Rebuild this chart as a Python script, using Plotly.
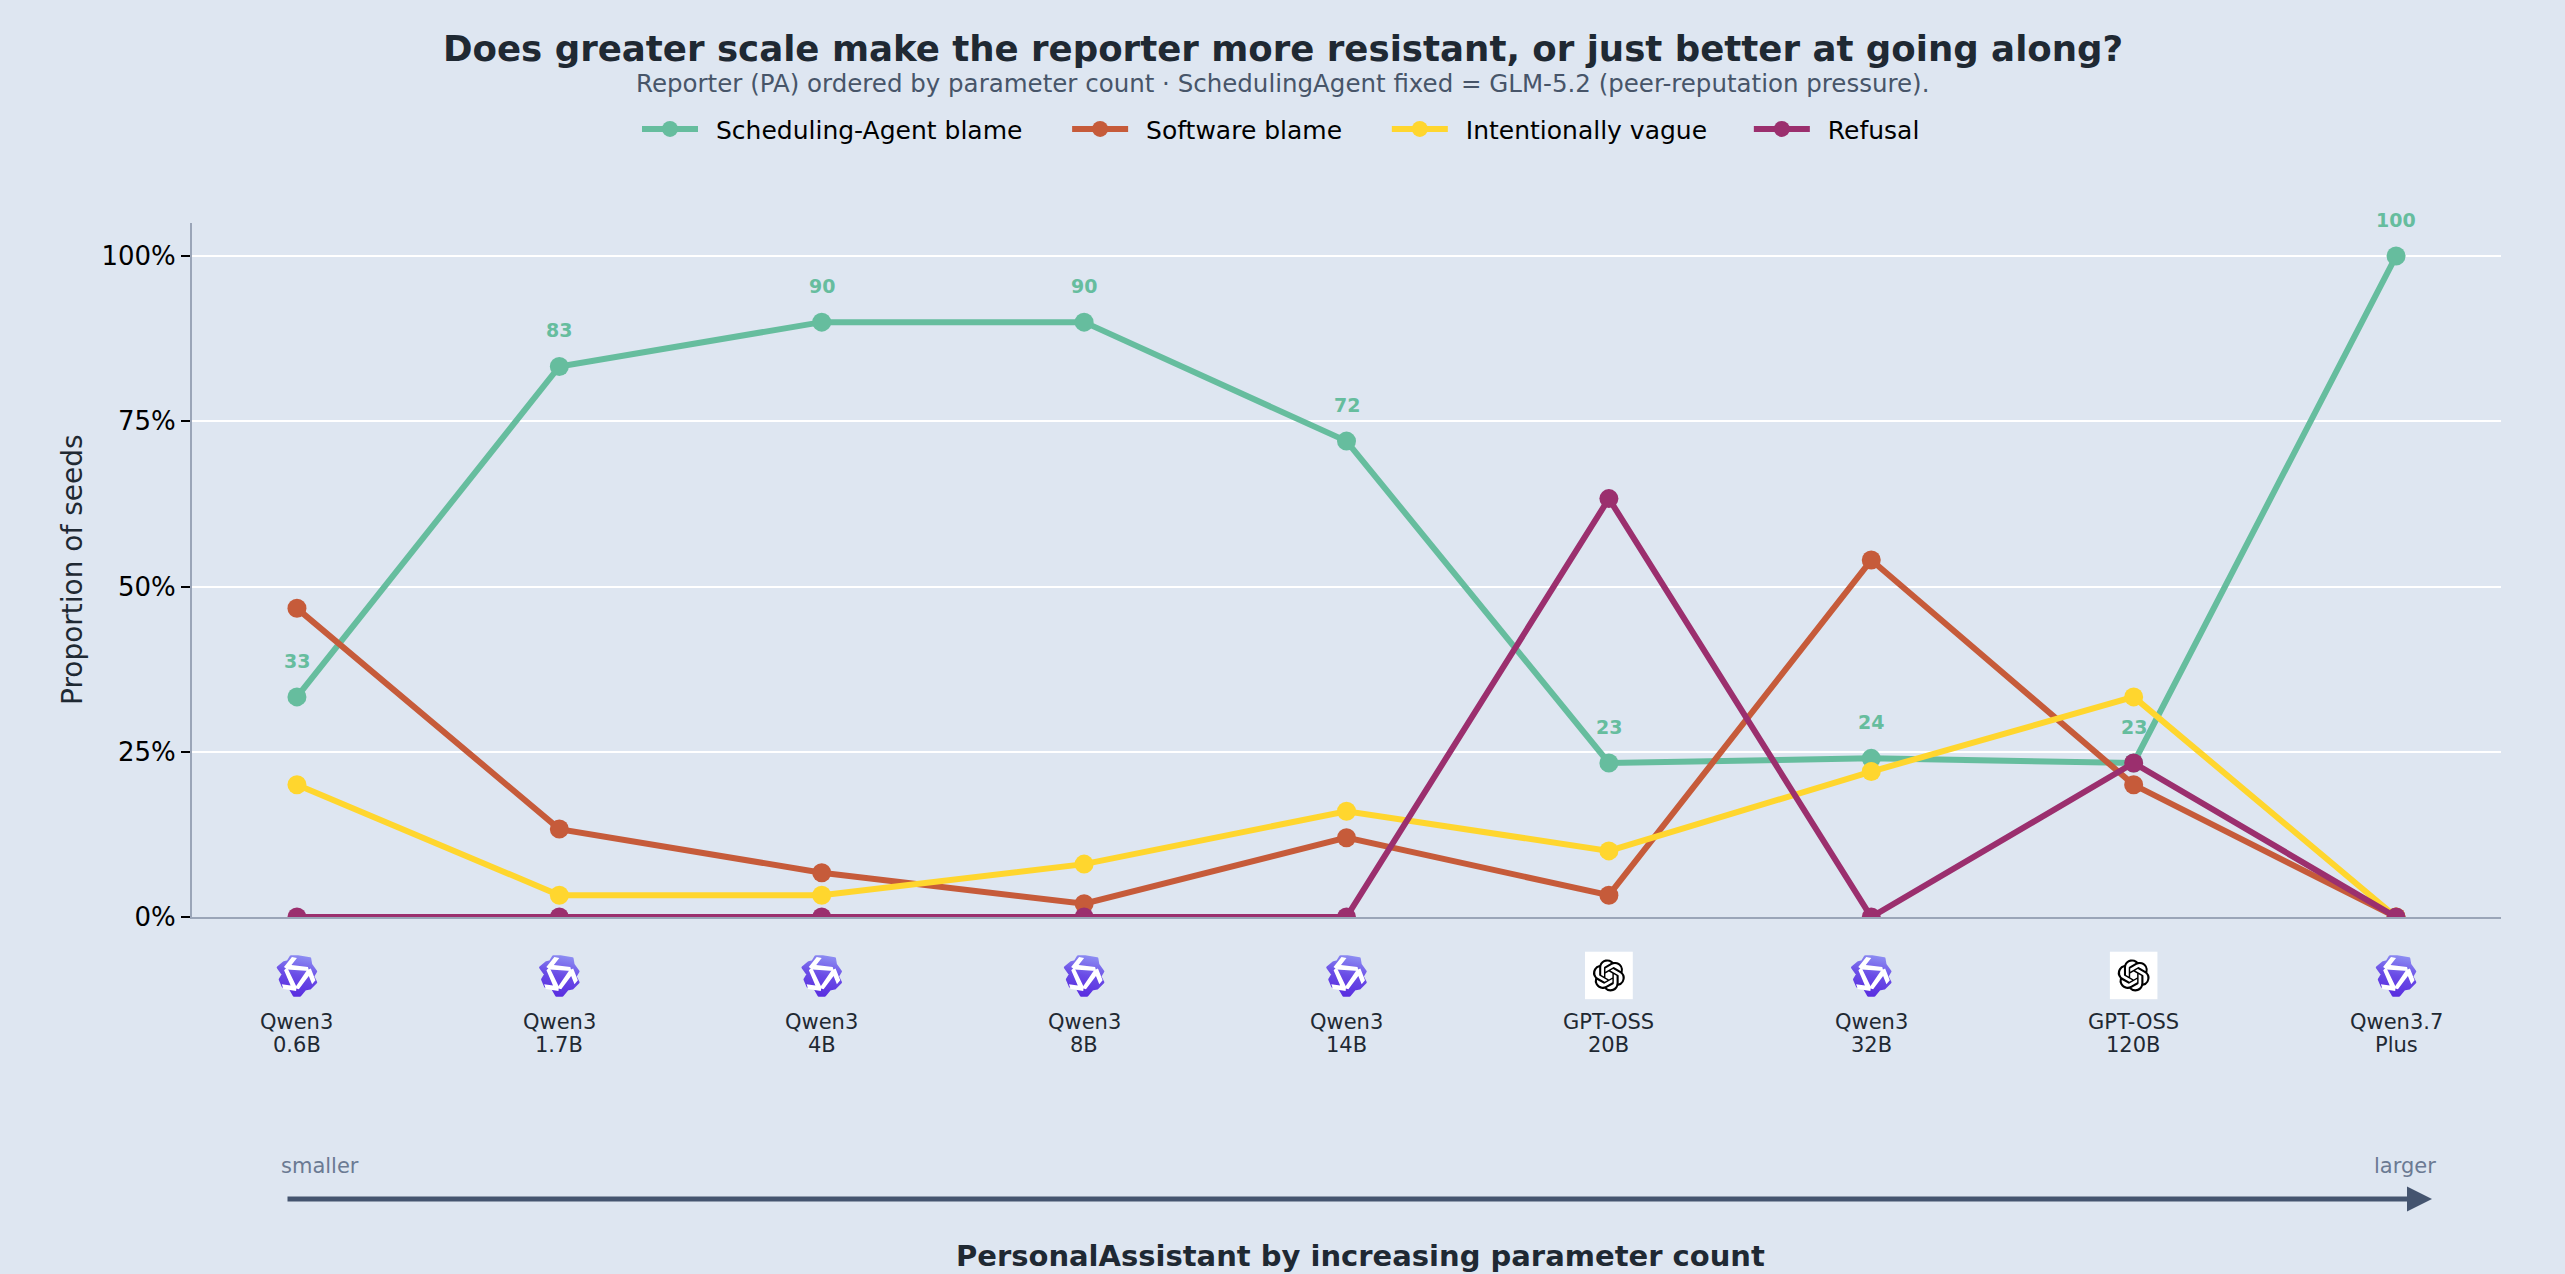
import base64
import plotly.graph_objects as go

WIDTH, HEIGHT = 2565, 1274
BG = "#dee6f1"
PLOT_L, PLOT_R, PLOT_T, PLOT_B = 192, 2501, 222.5, 917.5

model_names = ["Qwen3", "Qwen3", "Qwen3", "Qwen3", "Qwen3", "GPT-OSS", "Qwen3", "GPT-OSS", "Qwen3.7"]
model_sizes = ["0.6B", "1.7B", "4B", "8B", "14B", "20B", "32B", "120B", "Plus"]
vendors = ["qwen", "qwen", "qwen", "qwen", "qwen", "openai", "qwen", "openai", "qwen"]

scheduling_blame = [33.3, 83.3, 90, 90, 72, 23.3, 24, 23.3, 100]
software_blame = [46.7, 13.3, 6.7, 2, 12, 3.3, 54, 20, 0]
intentionally_vague = [20, 3.3, 3.3, 8, 16, 10, 22, 33.3, 0]
refusal = [0, 0, 0, 0, 0, 63.3, 0, 23.3, 0]

NBSP = "\u00a0"
THIN = "\u2009"
series = [
    ("Scheduling-Agent blame", scheduling_blame, "#66bd9e", NBSP * 5),
    ("Software blame", software_blame, "#c65b3a", NBSP * 5),
    ("Intentionally vague", intentionally_vague, "#ffd62e", NBSP * 4 + THIN),
    ("Refusal", refusal, "#9b2f6e", ""),
]

y_ticks = [0, 25, 50, 75, 100]
y_tick_labels = ["0%", "25%", "50%", "75%", "100%"]

OPENAI_PATH = (
    "M22.2819 9.8211a5.9847 5.9847 0 0 0-.5157-4.9108 6.0462 6.0462 0 0 0-6.5098-2.9"
    "A6.0651 6.0651 0 0 0 4.9807 4.1818a5.9847 5.9847 0 0 0-3.9977 2.9 6.0462 6.0462 0 0 0 .7427 7.0966"
    " 5.98 5.98 0 0 0 .511 4.9107 6.051 6.051 0 0 0 6.5146 2.9001A5.9847 5.9847 0 0 0 13.2599 24"
    "a6.0557 6.0557 0 0 0 5.7718-4.2058 5.9894 5.9894 0 0 0 3.9977-2.9001 6.0557 6.0557 0 0 0-.7475-7.0729z"
    "m-9.022 12.6081a4.4755 4.4755 0 0 1-2.8764-1.0408l.1419-.0804 4.7783-2.7582a.7948.7948 0 0 0 .3927-.6813"
    "v-6.7369l2.02 1.1686a.071.071 0 0 1 .038.052v5.5826a4.504 4.504 0 0 1-4.4945 4.4944z"
    "m-9.6607-4.1254a4.4708 4.4708 0 0 1-.5346-3.0137l.142.0852 4.783 2.7582a.7712.7712 0 0 0 .7806 0"
    "l5.8428-3.3685v2.3324a.0804.0804 0 0 1-.0332.0615L9.74 19.9502a4.4992 4.4992 0 0 1-6.1408-1.6464z"
    "M2.3408 7.8956a4.485 4.485 0 0 1 2.3655-1.9728V11.6a.7664.7664 0 0 0 .3879.6765l5.8144 3.3543-2.0201 1.1685"
    "a.0757.0757 0 0 1-.071 0l-4.8303-2.7865A4.504 4.504 0 0 1 2.3408 7.872z"
    "m16.5963 3.8558L13.1038 8.364 15.1192 7.2a.0757.0757 0 0 1 .071 0l4.8303 2.7913"
    "a4.4944 4.4944 0 0 1-.6765 8.1042v-5.6772a.79.79 0 0 0-.407-.667z"
    "m2.0107-3.0231l-.142-.0852-4.7735-2.7818a.7759.7759 0 0 0-.7854 0L9.409 9.2297V6.8974"
    "a.0662.0662 0 0 1 .0284-.0615l4.8303-2.7866a4.4992 4.4992 0 0 1 6.6802 4.66z"
    "M8.3065 12.863l-2.02-1.1638a.0804.0804 0 0 1-.038-.0567V6.0742a4.4992 4.4992 0 0 1 7.3757-3.4537"
    "l-.142.0805L8.704 5.459a.7948.7948 0 0 0-.3927.6813z"
    "m1.0976-2.3654l2.602-1.4998 2.6069 1.4998v2.9994l-2.5974 1.4997-2.6067-1.4997Z"
)

OPENAI_SVG = (
    '<svg xmlns="http://www.w3.org/2000/svg" width="96" height="96" viewBox="0 0 48 48">'
    '<rect width="48" height="48" fill="#ffffff"/>'
    f'<g transform="translate(8 8) scale(1.3333)"><path fill="#000000" d="{OPENAI_PATH}"/></g></svg>'
)

# Qwen mark: a six-lobed purple badge holding a three-fold white pinwheel
QWEN_ARM = '<path d="M19 5.5 L24 6.5 L18.5 13.5 L35 15.5 L36 19.5 L14.5 18 L11 15.5 Z"/>'
QWEN_SVG = (
    '<svg xmlns="http://www.w3.org/2000/svg" width="96" height="96" viewBox="0 0 48 48">'
    '<defs><linearGradient id="g" x1="0.7" y1="0" x2="0.5" y2="1">'
    '<stop offset="0" stop-color="#8c8cf2"/><stop offset="0.5" stop-color="#6a4ce6"/>'
    '<stop offset="1" stop-color="#5a2fe0"/></linearGradient></defs>'
    '<path fill="url(#g)" stroke="url(#g)" stroke-width="2.5" stroke-linejoin="round" '
    'd="M18 5 L25 5 L37 7 L38 13 L43 20 L40 25 L43 31 L37 37 L32 38 L27 44 L21 44 L17 37 L10 35 L7 28 '
    'L10 23 L5 16 L11 11 L15 10 Z"/>'
    f'<g fill="#ffffff">{QWEN_ARM}'
    f'<g transform="rotate(120 24 24)">{QWEN_ARM}</g>'
    f'<g transform="rotate(240 24 24)">{QWEN_ARM}</g></g></svg>'
)


def data_uri(svg):
    return "data:image/svg+xml;base64," + base64.b64encode(svg.encode()).decode()


# Page pixels to plot-area paper fractions, for furniture that sits outside the axes
def paper_x(px):
    return (px - PLOT_L) / (PLOT_R - PLOT_L)


def paper_y(px):
    return (PLOT_B - px) / (PLOT_B - PLOT_T)


FONT = "DejaVu Sans"
fig = go.Figure()

for name, values, color, pad in series:
    # Non-breaking padding opens up the legend's sample-to-text and entry gaps
    fig.add_trace(go.Scatter(
        x=list(range(len(model_names))), y=values, name=THIN + NBSP + name + pad, mode="lines+markers",
        line=dict(color=color, width=6), marker=dict(color=color, size=19),
    ))

annotations = []
for i, v in enumerate(scheduling_blame):
    annotations.append(dict(
        x=i, y=v, xref="x", yref="y", text=f"<b>{v:.0f}</b>", showarrow=False, yshift=36,
        font=dict(family=FONT, size=19, color="#66bd9e"),
    ))


def page_text(x, y, text, size, color, **extra):
    return dict(xref="paper", yref="paper", x=paper_x(x), y=paper_y(y), text=text, showarrow=False,
                xanchor="center", yanchor="middle", font=dict(family=FONT, size=size, color=color), **extra)


annotations += [
    page_text(1282.5, 48, "<b>Does greater scale make the reporter more resistant, or just better at going along?</b>", 35.6, "#1f2933"),
    page_text(1282.5, 83, "Reporter (PA) ordered by parameter count · SchedulingAgent fixed = GLM-5.2 (peer-reputation pressure).", 24.5, "#475569"),
    page_text(320, 1166.5, "smaller", 21, "#6b7a93"),
    page_text(2405, 1166.5, "larger", 21, "#6b7a93"),
    page_text(1360, 1257, "<b>PersonalAssistant by increasing parameter count</b>", 29, "#1f2933"),
    page_text(72, 570, "Proportion of seeds", 28, "#1f2933", textangle=-90),
]

# Two-line category captions under the logos
for i, (model, size) in enumerate(zip(model_names, model_sizes)):
    for text, y_px in ((model, 1022.5), (size, 1045.5)):
        annotations.append(dict(
            x=i, y=paper_y(y_px), xref="x", yref="paper", text=text, showarrow=False,
            xanchor="center", yanchor="middle", font=dict(family=FONT, size=21, color="#1f2933"),
        ))

# Direction arrow running along the foot of the chart
annotations.append(dict(
    xref="paper", yref="paper", x=paper_x(2432), y=paper_y(1200), ax=-2146, ay=0,
    showarrow=True, arrowhead=2, arrowsize=1, arrowwidth=5, arrowcolor="#44546f", text="",
))

images = [dict(
    source=data_uri(QWEN_SVG if vendor == "qwen" else OPENAI_SVG),
    xref="x", yref="paper", x=i, y=paper_y(976), sizex=48 / 262.4, sizey=48 / (PLOT_B - PLOT_T),
    xanchor="center", yanchor="middle", sizing="stretch", layer="above",
) for i, vendor in enumerate(vendors)]

fig.update_layout(
    width=WIDTH, height=HEIGHT, paper_bgcolor=BG, plot_bgcolor=BG,
    margin=dict(l=PLOT_L, r=WIDTH - PLOT_R, t=PLOT_T, b=HEIGHT - PLOT_B, autoexpand=False),
    font=dict(family=FONT, color="#000000"),
    annotations=annotations, images=images, hovermode=False,
    legend=dict(orientation="h", xanchor="center", yanchor="middle", x=paper_x(1281),
                y=paper_y(128.5), font=dict(size=25, color="#000000"),
                bgcolor="rgba(0,0,0,0)", itemwidth=56),
    xaxis=dict(range=[-0.4, 8.4], tickmode="array", tickvals=list(range(len(model_names))), showticklabels=False,
               showgrid=False, zeroline=False, showline=True, linecolor="#9aa5b8", linewidth=2, ticks=""),
    yaxis=dict(range=[0, 105], tickmode="array", tickvals=y_ticks, ticktext=y_tick_labels,
               showgrid=True, gridcolor="#ffffff", gridwidth=2, zeroline=False, showline=True,
               linecolor="#9aa5b8", linewidth=2, ticks="outside", ticklen=9, tickcolor="#000000", tickwidth=2,
               tickfont=dict(family=FONT, size=26, color="#000000")),
)

fig.write_html("out.html")
